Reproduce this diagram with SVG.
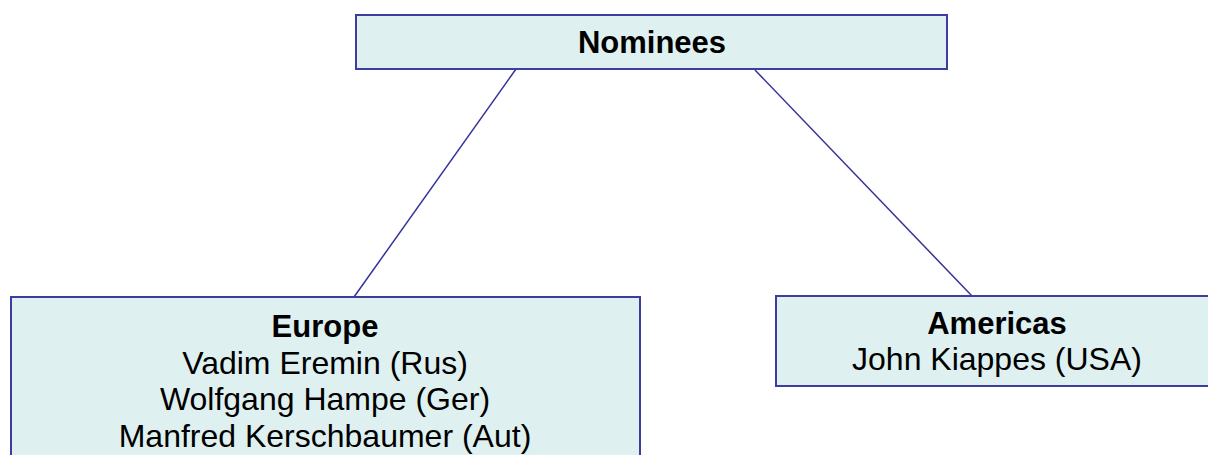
<svg xmlns="http://www.w3.org/2000/svg" width="1208" height="455" viewBox="0 0 1208 455">
<style>
.box{fill:#DFF0F0;stroke:#3D3DA0;stroke-width:2}
.conn{stroke:#33339A;stroke-width:1.5;fill:none}
text{font-family:"Liberation Sans",Arial,sans-serif;font-size:32px;fill:#000;text-anchor:middle}
.b{font-weight:bold;font-size:31px}
</style>
<rect width="1208" height="455" fill="#fff"/>
<g id="connectors">
<line class="conn" x1="516" y1="69" x2="354" y2="297"/>
<line class="conn" x1="755" y1="70" x2="972" y2="296"/>
</g>
<g id="nominees">
<rect class="box" x="356" y="15" width="591" height="54"/>
<text class="b" x="652" y="52.5">Nominees</text>
</g>
<g id="europe">
<rect class="box" x="11" y="297" width="629" height="170"/>
<text class="b" x="325" y="337">Europe</text>
<text x="325" y="373.5">Vadim Eremin (Rus)</text>
<text x="325" y="410">Wolfgang Hampe (Ger)</text>
<text x="325" y="446.5">Manfred Kerschbaumer (Aut)</text>
</g>
<g id="americas">
<rect class="box" x="776" y="296" width="440" height="90"/>
<text class="b" x="997" y="333.5">Americas</text>
<text x="997" y="370">John Kiappes (USA)</text>
</g>
</svg>
